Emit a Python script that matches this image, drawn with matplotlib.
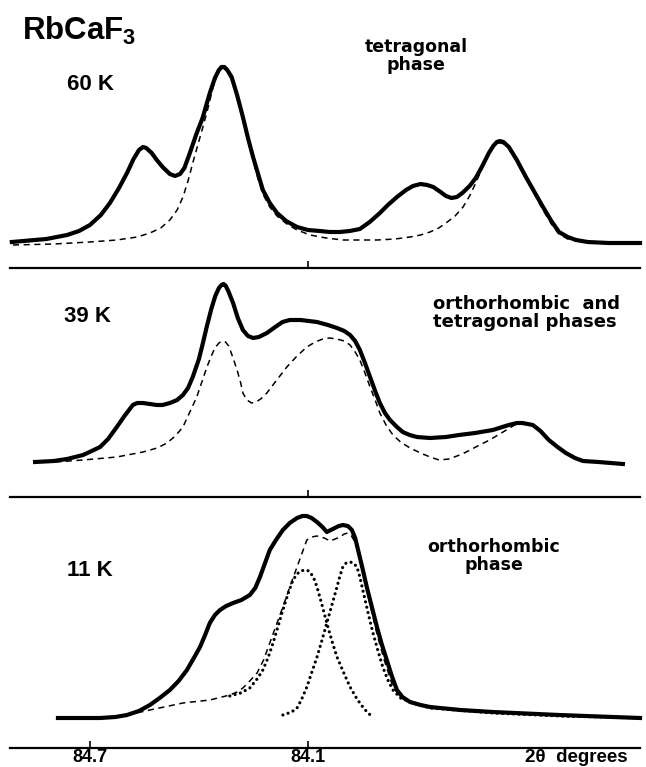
import numpy as np
import matplotlib.pyplot as plt

plt.rcParams['mathtext.fontset'] = 'custom'
plt.rcParams['mathtext.rm'] = 'Liberation Sans:bold'
plt.rcParams['mathtext.it'] = 'Liberation Sans:bold'
plt.rcParams['mathtext.bf'] = 'Liberation Sans:bold'

# 60 K  (2theta in degrees, intensity in arbitrary units)
t60_obs = [84.915, 84.82, 84.763, 84.73, 84.700, 84.67, 84.645, 84.62, 84.598, 84.58, 84.565, 84.554,
           84.545, 84.53, 84.516, 84.50, 84.48, 84.466, 84.452, 84.44, 84.425, 84.406, 84.39, 84.37,
           84.356, 84.345, 84.338, 84.330, 84.322, 84.31, 84.295, 84.279, 84.265, 84.251, 84.238,
           84.224, 84.205, 84.185, 84.16, 84.13, 84.10, 84.067, 84.04, 84.012, 83.985, 83.957,
           83.93, 83.902, 83.88, 83.855, 83.83, 83.811, 83.79, 83.772, 83.755, 83.735, 83.72,
           83.705, 83.69, 83.675, 83.655, 83.638, 83.62, 83.602, 83.59, 83.58, 83.572, 83.562,
           83.547, 83.525, 83.50, 83.475, 83.453, 83.43, 83.409, 83.385, 83.362, 83.33, 83.272, 83.186]
i60_obs = [1, 4, 8, 12, 18, 28, 40, 55, 70, 84, 93, 96,
           95, 90, 83, 76, 69, 67, 69, 75, 90, 110, 125, 150,
           165, 173, 176, 176, 173, 166, 148, 126, 105, 86, 70,
           53, 40, 30, 22, 16, 13, 12, 11, 11, 12, 14,
           21, 30, 38, 46, 53, 57, 59, 58, 56, 51, 47,
           45, 46, 50, 57, 65, 77, 90, 97, 101, 102, 101,
           96, 83, 66, 50, 36, 22, 11, 6, 3, 1, 0, 0]
t60_calc = [84.912, 84.80, 84.70, 84.626, 84.57, 84.535, 84.505, 84.48, 84.46, 84.444, 84.43, 84.417,
            84.40, 84.389, 84.375, 84.361, 84.35, 84.34, 84.332, 84.322, 84.306, 84.29, 84.279, 84.265,
            84.251, 84.238, 84.224, 84.205, 84.185, 84.158, 84.13, 84.094, 84.05, 84.004, 83.95,
            83.91, 83.86, 83.819, 83.79, 83.764, 83.74, 83.72, 83.695, 83.673, 83.655, 83.638,
            83.625, 83.61, 83.598, 83.588, 83.578, 83.568, 83.555, 83.547, 83.525, 83.50, 83.475,
            83.453, 83.43, 83.409, 83.385, 83.362, 83.296]
i60_calc = [-2, -1, 1, 3, 6, 10, 15, 23, 33, 46, 62, 80,
            102, 116, 135, 156, 168, 174, 175, 171, 161, 142, 124, 103,
            83, 65, 49, 36, 27, 19, 13, 8, 5, 3, 3,
            3, 4, 6, 8, 11, 15, 20, 27, 36, 47, 60,
            71, 83, 92, 97, 100, 100, 98, 95, 81, 64, 48,
            33, 19, 9, 4, 2, 0]

# 39 K
t39_obs = [84.851, 84.80, 84.763, 84.719, 84.695, 84.672, 84.65, 84.626, 84.605, 84.582, 84.57, 84.554,
           84.535, 84.516, 84.50, 84.48, 84.46, 84.444, 84.43, 84.417, 84.40, 84.389, 84.378, 84.366,
           84.355, 84.345, 84.338, 84.332, 84.326, 84.318, 84.306, 84.293, 84.279, 84.265, 84.251,
           84.235, 84.213, 84.19, 84.17, 84.15, 84.12, 84.075, 84.045, 84.02, 84.0, 83.984, 83.97,
           83.957, 83.943, 83.929, 83.915, 83.902, 83.888, 83.874, 83.855, 83.839, 83.82, 83.80,
           83.764, 83.72, 83.684, 83.64, 83.591, 83.565, 83.547, 83.525, 83.51, 83.495, 83.481,
           83.46, 83.437, 83.413, 83.39, 83.365, 83.343, 83.30, 83.233]
i39_obs = [0, 1, 3, 7, 11, 15, 23, 35, 46, 57, 59, 59,
           58, 57, 57, 59, 62, 67, 74, 85, 103, 119, 136, 153,
           166, 174, 177, 178, 176, 170, 159, 144, 132, 126, 124,
           125, 129, 135, 140, 142, 142, 140, 137, 134, 131, 127, 121,
           112, 99, 85, 71, 59, 49, 42, 35, 30, 27, 25,
           24, 25, 27, 29, 32, 35, 37, 39, 39, 38, 37,
           31, 22, 15, 9, 4, 1, 0, -2]
t39_calc = [84.796, 84.719, 84.626, 84.554, 84.515, 84.488, 84.465, 84.444, 84.425, 84.406, 84.392,
            84.378, 84.366, 84.356, 84.345, 84.336, 84.327, 84.318, 84.308, 84.295, 84.285, 84.279,
            84.268, 84.255, 84.243, 84.23, 84.213, 84.19, 84.158, 84.13, 84.103, 84.08, 84.059,
            84.04, 84.02, 84.0, 83.984, 83.97, 83.957, 83.943, 83.929, 83.915, 83.902, 83.885,
            83.866, 83.845, 83.819, 83.79, 83.764, 83.739, 83.712, 83.675, 83.638, 83.60, 83.563,
            83.54, 83.522]
i39_calc = [0, 2, 5, 10, 14, 19, 26, 35, 50, 65, 80,
            95, 106, 114, 119, 121, 120, 116, 106, 92, 79, 69,
            62, 59, 60, 63, 69, 80, 95, 106, 115, 120, 123,
            124, 123, 121, 117, 110, 102, 89, 75, 62, 49, 37,
            27, 20, 14, 9, 5, 2, 3, 8, 15, 22, 30,
            35, 39]

# 11 K
t11_obs = [84.788, 84.672, 84.63, 84.598, 84.565, 84.535, 84.508, 84.48, 84.456, 84.433, 84.414,
           84.397, 84.383, 84.37, 84.356, 84.342, 84.325, 84.306, 84.283, 84.26, 84.245, 84.232,
           84.218, 84.205, 84.188, 84.169, 84.15, 84.13, 84.115, 84.103, 84.09, 84.075, 84.06,
           84.048, 84.037, 84.026, 84.015, 84.004, 83.99, 83.979, 83.97, 83.962, 83.95, 83.938,
           83.924, 83.91, 83.897, 83.883, 83.87, 83.855, 83.84, 83.819, 83.79, 83.764, 83.68,
           83.591, 83.409, 83.186]
i11_obs = [0, 0, 1, 3, 7, 13, 20, 28, 37, 48, 60,
           71, 83, 95, 103, 108, 112, 115, 118, 123, 130, 141,
           155, 168, 178, 188, 195, 200, 202, 202, 200, 196, 191,
           186, 188, 190, 192, 193, 192, 188, 180, 168, 150, 131,
           111, 91, 74, 58, 43, 28, 21, 16, 13, 11, 8,
           6, 3, 0]
t11_sum = [84.598, 84.535, 84.444, 84.37, 84.315, 84.295, 84.279, 84.26, 84.24, 84.222, 84.205,
           84.187, 84.169, 84.15, 84.13, 84.115, 84.103, 84.09, 84.075, 84.055, 84.039, 84.025,
           84.012, 84.0, 83.99, 83.98, 83.972, 83.965, 83.952, 83.938, 83.924, 83.91, 83.89,
           83.866, 83.845, 83.819, 83.764]
i11_sum = [3, 8, 15, 18, 23, 26, 30, 37, 45, 58, 75,
           93, 111, 131, 151, 166, 178, 181, 182, 180, 177, 179,
           181, 184, 185, 182, 177, 171, 150, 128, 106, 84, 58,
           31, 21, 16, 10]
t11_p1 = [84.315, 84.285, 84.260, 84.24, 84.224, 84.21, 84.196, 84.182, 84.169, 84.155, 84.141,
          84.13, 84.12, 84.108, 84.097, 84.085, 84.075, 84.062, 84.048, 84.034, 84.020, 84.0,
          83.984, 83.965, 83.949, 83.935, 83.921]
i11_p1 = [22, 25, 30, 39, 48, 60, 75, 92, 108, 124, 138,
          144, 147, 148, 147, 141, 131, 114, 95, 77, 61, 44,
          31, 19, 11, 5, 1]
t11_p2 = [84.169, 84.145, 84.130, 84.117, 84.103, 84.09, 84.075, 84.062, 84.048, 84.034, 84.020,
          84.012, 84.004, 83.995, 83.984, 83.975, 83.965, 83.957, 83.949, 83.935, 83.921, 83.907,
          83.894, 83.88, 83.866, 83.845, 83.819, 83.764, 83.591, 83.409, 83.186]
i11_p2 = [3, 6, 10, 19, 31, 45, 61, 77, 95, 113, 131,
          142, 151, 155, 156, 155, 151, 141, 128, 106, 85, 67,
          51, 38, 28, 20, 16, 10, 5, 2, 0]

xmin, xmax = 84.920, 83.186
W, H = 646, 767

fig = plt.figure(figsize=(6.46, 7.67), dpi=100)
ax1 = fig.add_axes([10/W, 1-268/H, 630/W, 268/H])
ax2 = fig.add_axes([10/W, 1-497/H, 630/W, 229/H])
ax3 = fig.add_axes([10/W, 1-748/H, 630/W, 251/H])

ax1.plot(t60_obs, i60_obs, 'k-', lw=3, solid_joinstyle='round', clip_on=False)
ax1.plot(t60_calc, i60_calc, color='k', lw=1.1, ls=(0, (4, 3)))
ax1.set_ylim(-25, 243)

ax2.plot(t39_obs, i39_obs, 'k-', lw=3, solid_joinstyle='round', clip_on=False)
ax2.plot(t39_calc, i39_calc, color='k', lw=1.1, ls=(0, (4, 3)))
ax2.set_ylim(-35, 194)

ax3.plot(t11_obs, i11_obs, 'k-', lw=3, solid_joinstyle='round', clip_on=False)
ax3.plot(t11_sum, i11_sum, color='k', lw=1.1, ls=(0, (4, 3)))
ax3.plot(t11_p1, i11_p1, color='k', lw=2.3, ls=(0, (0.01, 1.7)), dash_capstyle='round')
ax3.plot(t11_p2, i11_p2, color='k', lw=2.3, ls=(0, (0.01, 1.7)), dash_capstyle='round')
ax3.set_ylim(-30, 221)

for ax in [ax1, ax2, ax3]:
    ax.set_xlim(xmin, xmax)
    for s in ['top', 'left', 'right']:
        ax.spines[s].set_visible(False)
    ax.spines['bottom'].set_linewidth(1.6)
    ax.set_yticks([])
    ax.patch.set_alpha(0)
    ax.tick_params(axis='x', direction='in', length=5, width=1.2, pad=1)

ax1.set_xticks([84.1])
ax2.set_xticks([84.1])
ax1.set_xticklabels([])
ax2.set_xticklabels([])
ax3.set_xticks([84.7, 84.1])
ax3.set_xticklabels(['84.7', '84.1'], fontsize=13, fontweight='bold', family='Liberation Sans')

fig.text(22/W, 1-31/H, r'RbCaF$_3$', fontsize=22.5, family='Liberation Sans', fontweight='bold', va='center')
fig.text(67/W, 1-85/H, '60 K', fontsize=16, family='Liberation Sans', fontweight='bold', va='center')
fig.text(64/W, 1-316/H, '39 K', fontsize=16, family='Liberation Sans', fontweight='bold', va='center')
fig.text(67/W, 1-571/H, '11 K', fontsize=16, family='Liberation Sans', fontweight='bold', va='center')

fig.text(416/W, 1-56/H, 'tetragonal\nphase', fontsize=12.5, fontweight='bold', ha='center', va='center',
         linespacing=0.95)
fig.text(433/W, 1-313/H, 'orthorhombic  and\ntetragonal phases', fontsize=13, fontweight='bold',
         ha='left', va='center', linespacing=0.95)
fig.text(494/W, 1-556/H, 'orthorhombic\nphase', fontsize=12.5, fontweight='bold', ha='center', va='center',
         linespacing=0.95)
fig.text(576/W, 1-757/H, '2θ  degrees', fontsize=13.5, family='Liberation Sans', fontweight='bold',
         ha='center', va='center')

fig.savefig('out.png', dpi=100)
